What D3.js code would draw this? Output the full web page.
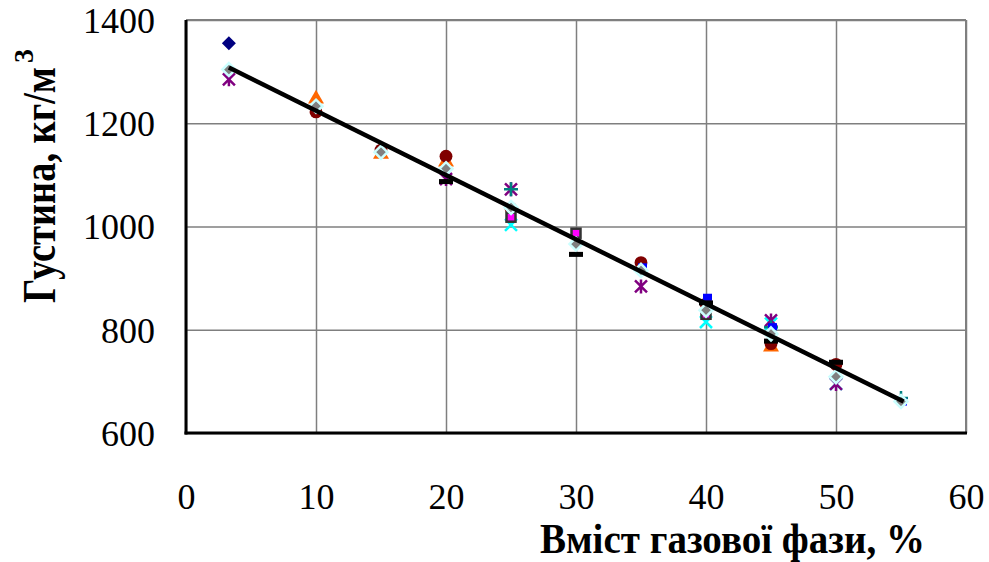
<!DOCTYPE html>
<html>
<head>
<meta charset="utf-8">
<script src="https://cdn.jsdelivr.net/npm/d3@7"></script>
<style>
  body { margin: 0; background: #fff; }
  svg { display: block; }
</style>
</head>
<body>
<div id="chart"></div>
<script>
// data
const xTicks = [0, 10, 20, 30, 40, 50, 60];
const yTicks = [600, 800, 1000, 1200, 1400];

const navyX = [3.3];
const navyY = [1355];
const orangeX = [10, 15, 20, 45];
const orangeY = [1247, 1140, 1125, 767];
const cyanX = [25, 40, 45, 50];
const cyanY = [1003, 815, 812, 695];
const magentaX = [25, 30, 40];
const magentaY = [1018, 987, 830];
const purpleX = [3.3, 20, 25, 35, 45, 50];
const purpleY = [1285, 1092, 1072, 884, 818, 695];
const redX = [10, 15, 20, 25, 35, 40, 45, 50];
const redY = [1222, 1148, 1136, 1035, 930, 850, 773, 733];
const tealX = [25, 40, 45, 55];
const tealY = [1072, 852, 805, 668];
const blueX = [35, 40, 45, 55];
const blueY = [921, 862, 805, 659];
const dashX = [20, 30, 40, 45, 50];
const dashY = [1087, 946, 852, 778, 737];
const grayX = [3.3, 10, 15, 20, 25, 30, 35, 40, 45, 50, 55];
const grayY = [1304, 1233, 1144, 1112, 1037, 966, 915, 838, 792, 709, 661];
const trendX = [3.3, 55.2];
const trendY = [1308, 661];

const W = 989, H = 562;
const MARGIN = { TOP: 20, LEFT: 186, RIGHT: 23, BOTTOM: 129 };
const WIDTH = W - MARGIN.LEFT - MARGIN.RIGHT;
const HEIGHT = H - MARGIN.TOP - MARGIN.BOTTOM;

const svg = d3.select("#chart").append("svg")
  .attr("width", W)
  .attr("height", H);

const g = svg.append("g")
  .attr("transform", `translate(${MARGIN.LEFT}, ${MARGIN.TOP})`);

const x = d3.scaleLinear().domain([0, 60]).range([0, WIDTH]);
const y = d3.scaleLinear().domain([600, 1400]).range([HEIGHT, 0]);

const zip = (xs, ys) => xs.map((v, i) => ({ x: v, y: ys[i] }));

// grid
g.append("g")
  .call(d3.axisBottom(x).tickValues(xTicks).tickSize(HEIGHT).tickFormat(""))
  .call(s => s.select(".domain").remove())
  .call(s => s.selectAll("line").attr("stroke", "#7f7f7f").attr("stroke-width", 1.5));

g.append("g")
  .call(d3.axisLeft(y).tickValues(yTicks).tickSize(-WIDTH).tickFormat(""))
  .call(s => s.select(".domain").remove())
  .call(s => s.selectAll("line").attr("stroke", "#7f7f7f").attr("stroke-width", 1.5));

// frame: gray top/right, black left/bottom
g.append("line").attr("x1", 0).attr("x2", WIDTH).attr("y1", 0).attr("y2", 0)
  .attr("stroke", "#7f7f7f").attr("stroke-width", 2);
g.append("line").attr("x1", WIDTH).attr("x2", WIDTH).attr("y1", 0).attr("y2", HEIGHT)
  .attr("stroke", "#7f7f7f").attr("stroke-width", 2);
g.append("line").attr("x1", 0).attr("x2", 0).attr("y1", 0).attr("y2", HEIGHT + 1.5)
  .attr("stroke", "#000").attr("stroke-width", 3);
g.append("line").attr("x1", -1.5).attr("x2", WIDTH + 1).attr("y1", HEIGHT).attr("y2", HEIGHT)
  .attr("stroke", "#000").attr("stroke-width", 3);

// tick labels
const tickFont = "'Liberation Serif', 'Times New Roman', serif";

g.append("g")
  .attr("transform", `translate(0, ${HEIGHT})`)
  .call(d3.axisBottom(x).tickValues(xTicks).tickSize(0).tickPadding(0).tickFormat(d3.format("d")))
  .call(s => s.select(".domain").remove())
  .call(s => s.selectAll("text")
    .attr("y", 76)
    .attr("dy", 0)
    .attr("fill", "#000")
    .attr("font-family", tickFont)
    .attr("font-size", 36));

g.append("g")
  .call(d3.axisLeft(y).tickValues(yTicks).tickSize(0).tickPadding(31).tickFormat(d3.format("d")))
  .call(s => s.select(".domain").remove())
  .call(s => s.selectAll("text")
    .attr("dy", "0.34em")
    .attr("fill", "#000")
    .attr("font-family", tickFont)
    .attr("font-size", 36));

// marker shapes
const sym = (type, size) => d3.symbol().type(type).size(size)();

function drawSymbols(data, path, fill, stroke, sw) {
  g.append("g").selectAll("path")
    .data(data)
    .join("path")
      .attr("transform", d => `translate(${x(d.x)}, ${y(d.y)})`)
      .attr("d", path)
      .attr("fill", fill)
      .attr("stroke", stroke || "none")
      .attr("stroke-width", sw || 0);
}

// orange triangles
drawSymbols(zip(orangeX, orangeY), sym(d3.symbolTriangle, 110), "#ff6600");

// cyan crosses
drawSymbols(zip(cyanX, cyanY), "M-6,-6L6,6M-6,6L6,-6", "none", "#00ffff", 2.5);

// purple stars
drawSymbols(zip(purpleX, purpleY), "M-6,-6L6,6M-6,6L6,-6M0,-7L0,7", "none", "#800080", 2.5);

// teal plus
drawSymbols(zip(tealX, tealY), "M-7,0L7,0M0,-7L0,7", "none", "#008080", 2.5);

// dark red circles
drawSymbols(zip(redX, redY), sym(d3.symbolCircle, 130), "#800000");

// magenta squares
g.append("g").selectAll("rect")
  .data(zip(magentaX, magentaY))
  .join("rect")
    .attr("x", d => x(d.x) - 4.5)
    .attr("y", d => y(d.y) - 4.5)
    .attr("width", 9)
    .attr("height", 9)
    .attr("fill", "#ff00ff")
    .attr("stroke", "#333")
    .attr("stroke-width", 2.5);

// blue squares
g.append("g").selectAll("rect")
  .data(zip(blueX, blueY))
  .join("rect")
    .attr("x", d => x(d.x) - 3)
    .attr("y", d => y(d.y) - 4)
    .attr("width", 9)
    .attr("height", 7)
    .attr("fill", "#0000ff");

// black dashes
g.append("g").selectAll("rect")
  .data(zip(dashX, dashY))
  .join("rect")
    .attr("x", d => x(d.x) - 7)
    .attr("y", d => y(d.y) - 2.5)
    .attr("width", 14)
    .attr("height", 5)
    .attr("fill", "#000");

// navy diamond
drawSymbols(zip(navyX, navyY), "M0,-7L7,0L0,7L-7,0Z", "#000080");

// gray diamonds with light outline
drawSymbols(zip(grayX, grayY), "M0,-6.5L6.5,0L0,6.5L-6.5,0Z", "#808080", "#ccffff", 2.5);

// trend line
g.append("path")
  .datum(zip(trendX, trendY))
  .attr("fill", "none")
  .attr("stroke", "#000")
  .attr("stroke-width", 4.5)
  .attr("d", d3.line().x(d => x(d.x)).y(d => y(d.y)));

// axis titles
svg.append("text")
  .attr("x", 540)
  .attr("y", 553)
  .attr("font-family", tickFont)
  .attr("font-weight", "bold")
  .attr("font-size", 42)
  .attr("textLength", 385)
  .attr("lengthAdjust", "spacingAndGlyphs")
  .text("Вміст газової фази, %");

const yTitle = svg.append("text")
  .attr("transform", "translate(55, 303) rotate(-90)")
  .attr("font-family", tickFont)
  .attr("font-weight", "bold")
  .attr("font-size", 46);
yTitle.append("tspan")
  .attr("textLength", 236)
  .attr("lengthAdjust", "spacingAndGlyphs")
  .text("Густина, кг/м");
yTitle.append("tspan")
  .attr("dx", 4)
  .attr("dy", -22)
  .attr("font-size", 28)
  .text("3");
</script>
</body>
</html>
